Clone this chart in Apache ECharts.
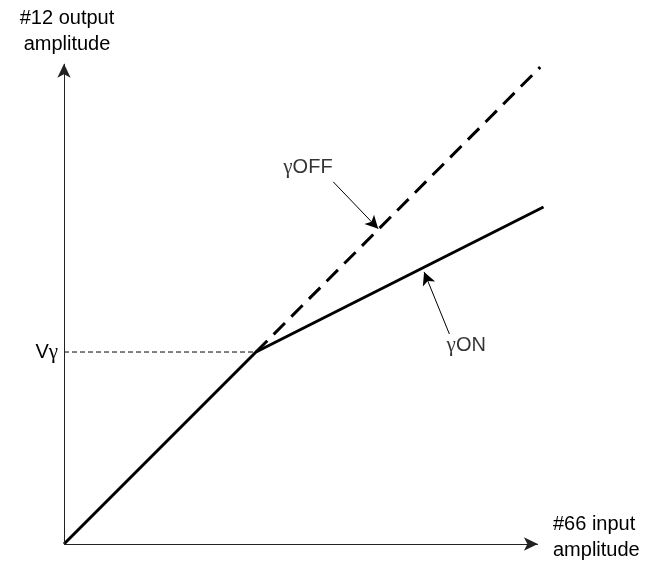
<!DOCTYPE html>
<html>
<head>
<meta charset="utf-8">
<script src="https://cdn.jsdelivr.net/npm/echarts@6/dist/echarts.min.js"></script>
<style>
  html, body { margin: 0; padding: 0; background: #fff; }
  #chart { width: 655px; height: 562px; }
</style>
</head>
<body>
<div id="chart"></div>
<script>
// transfer curve, axis units (input / output amplitude)
const gammaOnCurve = [[0, 0], [41, 40.5], [102.4, 71.1]]
const gammaOffCurve = [[41, 40.5], [101.7, 100.6]]
const vGammaGuide = [[0, 40.5], [41, 40.5]]
const yTickValues = [40.5]
const yTickLabels = ['V{g|γ}']

// drawn axes with arrow heads
const xAxisLine = [[0, 0], [101.2, 0]]
const yAxisLine = [[0, 0], [0, 101.3]]

// callout arrows: [from, to]
const offArrow = [[57.5, 76.4], [67.1, 66.5]]
const onArrow = [[82.3, 44.3], [76.9, 57.4]]
const calloutPoints = [[52.1, 79.5], [85.9, 41.8]]
const calloutTexts = ['{g|γ}OFF', '{g|γ}ON']

const xName = '{a|#66 input}\n{a|amplitude}\n{s|}'
const yName = '#12 output\namplitude'

const font = '"Liberation Sans", Arial, sans-serif'
const gammaRich = { g: { fontFamily: '"Liberation Serif", "DejaVu Serif", serif', fontSize: 21, color: '#000' } }
const chart = echarts.init(document.getElementById('chart'))

chart.setOption({
  animation: false,
  grid: { left: 64, right: 104, top: 60.5, bottom: 18, outerBoundsMode: 'none', containLabel: false },
  xAxis: {
    type: 'value',
    min: 0,
    max: 104,
    name: xName,
    nameLocation: 'end',
    nameGap: 2,
    nameTextStyle: {
      color: '#000', fontSize: 20, fontFamily: font,
      align: 'left', verticalAlign: 'middle',
      rich: {
        a: { color: '#000', fontSize: 20, fontFamily: font, lineHeight: 26 },
        s: { fontSize: 10, lineHeight: 14 }
      }
    },
    axisLine: { show: false },
    axisTick: { show: false },
    axisLabel: { show: false },
    splitLine: { show: false }
  },
  yAxis: {
    type: 'value',
    min: 0,
    max: 102,
    name: yName,
    nameLocation: 'end',
    nameGap: 3,
    nameTextStyle: {
      color: '#000', fontSize: 20, fontFamily: font, lineHeight: 26,
      align: 'center', padding: [0, 0, 0, 6]
    },
    axisLine: { show: false },
    axisTick: { show: false },
    axisLabel: {
      show: true,
      customValues: yTickValues,
      color: '#000',
      fontSize: 20,
      fontFamily: font,
      margin: 6,
      rich: gammaRich,
      formatter: (v) => {
        const i = yTickValues.indexOf(v)
        return i >= 0 ? yTickLabels[i] : ''
      }
    },
    splitLine: { show: false }
  },
  series: [
    {
      type: 'line',
      data: [],
      markLine: {
        silent: true,
        symbol: ['none', 'arrow'],
        symbolSize: [10, 14],
        label: { show: false },
        lineStyle: { color: '#222', width: 1, type: 'solid' },
        data: [
          [{ coord: xAxisLine[0] }, { coord: xAxisLine[1] }],
          [{ coord: yAxisLine[0] }, { coord: yAxisLine[1] }]
        ]
      }
    },
    {
      type: 'line',
      data: vGammaGuide,
      symbol: 'none',
      lineStyle: { color: '#000', width: 1, type: [5, 3] }
    },
    {
      type: 'line',
      data: gammaOffCurve,
      symbol: 'none',
      lineStyle: { color: '#000', width: 3, type: [16, 9] }
    },
    {
      type: 'line',
      data: gammaOnCurve,
      symbol: 'none',
      lineStyle: { color: '#000', width: 3 }
    },
    {
      type: 'line',
      data: [],
      markLine: {
        silent: true,
        symbol: ['none', 'arrow'],
        symbolSize: [10, 13],
        label: { show: false },
        lineStyle: { color: '#000', width: 1, type: 'solid' },
        data: [
          [{ coord: offArrow[0] }, { coord: offArrow[1] }],
          [{ coord: onArrow[0] }, { coord: onArrow[1] }]
        ]
      }
    },
    {
      type: 'scatter',
      symbolSize: 0,
      data: calloutPoints.map((p, i) => [p[0], p[1], calloutTexts[i]]),
      label: {
        show: true,
        position: 'inside',
        color: '#000',
        fontSize: 20,
        fontFamily: font,
        rich: gammaRich,
        formatter: (p) => p.data[2]
      }
    }
  ]
})
</script>
</body>
</html>
